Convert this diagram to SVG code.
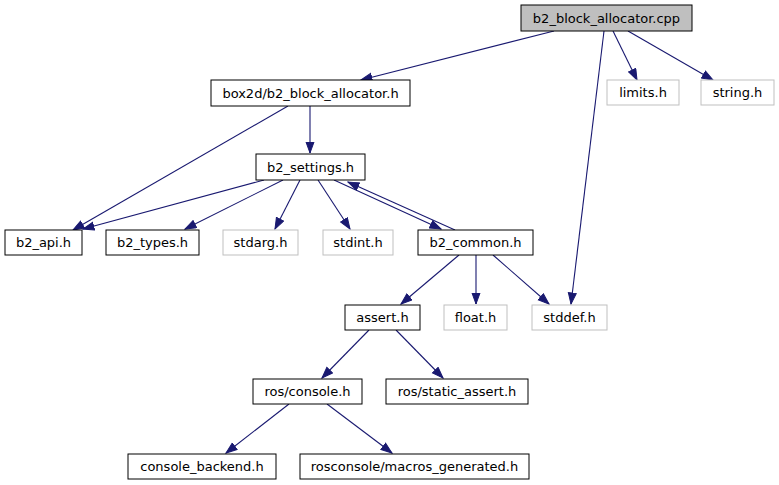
<svg xmlns="http://www.w3.org/2000/svg" width="779" height="485" viewBox="0 0 779 485">
<style>
.n rect{fill:#fff;stroke:#000;stroke-width:1}
.g rect{fill:#fff;stroke:#bfbfbf;stroke-width:1}
.root rect{fill:#bfbfbf;stroke:#000;stroke-width:1}
text{font-family:"DejaVu Sans",sans-serif;font-size:13px;fill:#000;text-anchor:middle}
#edges line{stroke:#191970;stroke-width:1.1;fill:none;marker-end:url(#arr)}
</style>
<defs>
<marker id="arr" markerUnits="userSpaceOnUse" markerWidth="13" markerHeight="10" refX="11.5" refY="4.5" orient="auto">
<path d="M0.5,0.5 L11.5,4.5 L0.5,8.5 z" fill="#191970" stroke="#191970"/>
</marker>
</defs>
<rect width="779" height="485" fill="#fff"/>
<g id="edges">
<line x1="554" y1="31" x2="361" y2="80"/>
<line x1="613" y1="31" x2="637" y2="80"/>
<line x1="628" y1="31" x2="713" y2="80"/>
<line x1="604" y1="31" x2="571" y2="304"/>
<line x1="310" y1="106" x2="310" y2="153"/>
<line x1="288" y1="106" x2="73" y2="230"/>
<line x1="264" y1="180" x2="83" y2="229"/>
<line x1="283" y1="180" x2="185" y2="229"/>
<line x1="300" y1="180" x2="275" y2="229"/>
<line x1="318" y1="180" x2="350" y2="229"/>
<line x1="334" y1="180" x2="441" y2="229"/>
<line x1="455" y1="230" x2="348" y2="182"/>
<line x1="459" y1="255" x2="401" y2="304"/>
<line x1="476" y1="255" x2="476" y2="304"/>
<line x1="493" y1="255" x2="549" y2="304"/>
<line x1="369" y1="330" x2="322" y2="378"/>
<line x1="396" y1="330" x2="443" y2="378"/>
<line x1="289" y1="404" x2="226" y2="453"/>
<line x1="327" y1="404" x2="392" y2="453"/>
</g>
<g id="node_cpp" class="root"><rect x="521" y="5" width="171" height="26"/><text x="606.5" y="22.5">b2_block_allocator.cpp</text></g>
<g id="node_limits" class="g"><rect x="607" y="80" width="72" height="25"/><text x="643" y="97">limits.h</text></g>
<g id="node_string" class="g"><rect x="701" y="80" width="73" height="25"/><text x="737.5" y="97">string.h</text></g>
<g id="node_box2d" class="n"><rect x="211" y="80" width="199" height="26"/><text x="310.5" y="97.5">box2d/b2_block_allocator.h</text></g>
<g id="node_settings" class="n"><rect x="256" y="154" width="109" height="26"/><text x="310.5" y="171.5">b2_settings.h</text></g>
<g id="node_api" class="n"><rect x="5" y="230" width="77" height="25"/><text x="43.5" y="247">b2_api.h</text></g>
<g id="node_types" class="n"><rect x="106" y="230" width="93" height="25"/><text x="152.5" y="247">b2_types.h</text></g>
<g id="node_stdarg" class="g"><rect x="223" y="230" width="75" height="25"/><text x="260.5" y="247">stdarg.h</text></g>
<g id="node_stdint" class="g"><rect x="323" y="230" width="70" height="25"/><text x="358" y="247">stdint.h</text></g>
<g id="node_common" class="n"><rect x="418" y="230" width="115" height="25"/><text x="475.5" y="247">b2_common.h</text></g>
<g id="node_assert" class="n"><rect x="345" y="305" width="75" height="25"/><text x="382.5" y="322">assert.h</text></g>
<g id="node_float" class="g"><rect x="444" y="305" width="63" height="25"/><text x="475.5" y="322">float.h</text></g>
<g id="node_stddef" class="g"><rect x="532" y="305" width="75" height="25"/><text x="569.5" y="322">stddef.h</text></g>
<g id="node_console" class="n"><rect x="253" y="379" width="109" height="25"/><text x="307.5" y="396">ros/console.h</text></g>
<g id="node_static" class="n"><rect x="386" y="379" width="142" height="25"/><text x="457" y="396">ros/static_assert.h</text></g>
<g id="node_backend" class="n"><rect x="128" y="454" width="148" height="25"/><text x="202" y="471">console_backend.h</text></g>
<g id="node_macros" class="n"><rect x="300" y="454" width="229" height="25"/><text x="414.5" y="471">rosconsole/macros_generated.h</text></g>
</svg>
